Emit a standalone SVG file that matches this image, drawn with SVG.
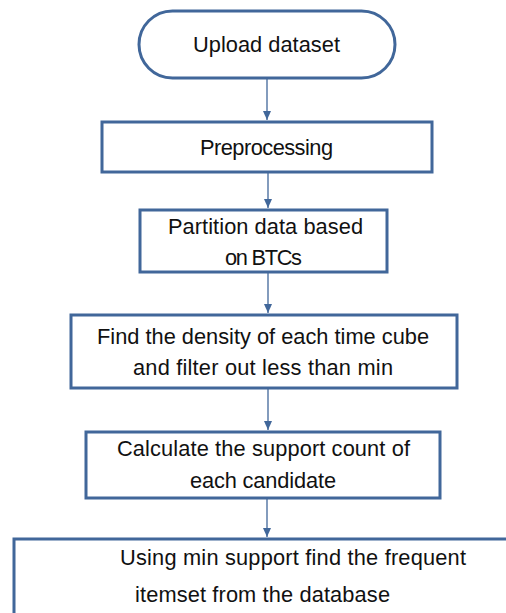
<svg xmlns="http://www.w3.org/2000/svg" width="506" height="613" viewBox="0 0 506 613">
<style>
.box{fill:#fff;stroke:#41679a;stroke-width:3}
.t{font-family:"Liberation Sans",Arial,sans-serif;font-size:21.8px;fill:#111;text-anchor:middle}
.c{stroke:#41679a;stroke-width:1.3;fill:none;marker-end:url(#ah)}
</style>
<defs>
<marker id="ah" markerWidth="10" markerHeight="10" refX="9" refY="5" orient="auto" markerUnits="userSpaceOnUse">
<path d="M0,1 L9,5 L0,9 Z" fill="#41679a"/>
</marker>
</defs>
<rect width="506" height="613" fill="#fff"/>
<g id="connectors">
<line class="c" x1="267" y1="78" x2="267" y2="120"/>
<line class="c" x1="268" y1="172" x2="268" y2="208"/>
<line class="c" x1="268" y1="272" x2="268" y2="313"/>
<line class="c" x1="268" y1="388" x2="268" y2="430"/>
<line class="c" x1="267" y1="498" x2="267" y2="537"/>
</g>
<g id="upload">
<rect class="box" x="139" y="11" width="256" height="67" rx="33.5"/>
<text class="t" x="266.5" y="52" textLength="147">Upload dataset</text>
</g>
<g id="preprocessing">
<rect class="box" x="102" y="122" width="330" height="50"/>
<text class="t" x="266.5" y="155" textLength="133">Preprocessing</text>
</g>
<g id="partition">
<rect class="box" x="140" y="210" width="247" height="62"/>
<text class="t" x="265.5" y="234" textLength="195">Partition data based</text>
<text class="t" x="263.5" y="265" textLength="77">on BTCs</text>
</g>
<g id="density">
<rect class="box" x="71" y="315" width="386" height="73"/>
<text class="t" x="263" y="344" textLength="332">Find the density of each time cube</text>
<text class="t" x="263" y="375" textLength="260">and filter out less than min</text>
</g>
<g id="calculate">
<rect class="box" x="86" y="432" width="354" height="66"/>
<text class="t" x="263.5" y="456" textLength="293">Calculate the support count of</text>
<text class="t" x="263" y="488" textLength="146">each candidate</text>
</g>
<g id="frequent">
<rect class="box" x="14" y="539" width="510" height="90"/>
<text class="t" x="293" y="565" textLength="346">Using min support find the frequent</text>
<text class="t" x="262.5" y="602" textLength="255">itemset from the database</text>
</g>
</svg>
